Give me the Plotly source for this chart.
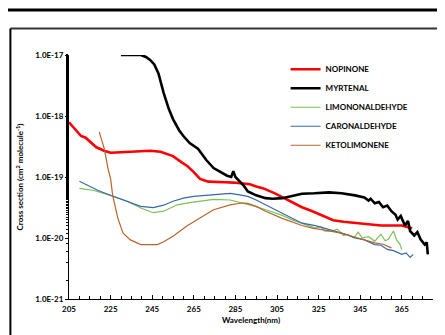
import plotly.graph_objects as go

# ---------------- data ----------------
nop_wl = [205, 208, 210.8, 213, 215.5, 218, 221.8, 225, 230, 236, 240, 244, 249, 255, 259, 262, 265, 268, 272, 275.5, 280, 284, 288, 292, 295, 298.5, 304, 308, 312, 317, 322, 327, 332, 337, 343, 349, 355, 360, 365, 368, 370]
nop_cs = [7.9e-19, 6.0e-19, 4.7e-19, 4.4e-19, 3.7e-19, 3.1e-19, 2.7e-19, 2.5e-19, 2.55e-19, 2.6e-19, 2.65e-19, 2.7e-19, 2.6e-19, 2.2e-19, 1.75e-19, 1.5e-19, 1.2e-19, 9.3e-20, 8.4e-20, 8.4e-20, 8.2e-20, 8.1e-20, 7.9e-20, 7.6e-20, 7.0e-20, 6.5e-20, 5.4e-20, 4.6e-20, 4.0e-20, 3.2e-20, 2.75e-20, 2.3e-20, 1.95e-20, 1.85e-20, 1.75e-20, 1.7e-20, 1.6e-20, 1.6e-20, 1.6e-20, 1.5e-20, 1.45e-20]

myr_wl = [230, 235, 239.5, 242, 244, 246, 248, 250.5, 253, 255, 258, 260, 263, 267, 271, 274.5, 278, 281, 283, 284, 285, 286, 289, 291, 295, 299.5, 303, 307.5, 312, 317, 323, 330, 336, 342.5, 347, 349, 350, 352, 354, 356, 358, 360, 362, 363, 364.5, 366.5, 368, 369, 371, 372.5, 374, 376, 377, 377.5]
myr_cs = [1.0e-17, 9.9e-18, 1.0e-17, 9.3e-18, 8.3e-18, 7.0e-18, 5.0e-18, 2.4e-18, 1.3e-18, 8.9e-19, 5.8e-19, 4.7e-19, 3.6e-19, 2.9e-19, 1.9e-19, 1.4e-19, 1.2e-19, 1.05e-19, 1.0e-19, 1.25e-19, 1.0e-19, 9.3e-20, 7.2e-20, 5.8e-20, 5.0e-20, 4.5e-20, 4.4e-20, 4.5e-20, 4.9e-20, 5.3e-20, 5.4e-20, 5.6e-20, 5.4e-20, 5.0e-20, 4.6e-20, 4.1e-20, 4.4e-20, 3.7e-20, 3.9e-20, 3.2e-20, 3.4e-20, 2.75e-20, 2.4e-20, 2.0e-20, 2.3e-20, 1.6e-20, 1.9e-20, 1.3e-20, 1.1e-20, 1.25e-20, 9.5e-21, 7.8e-21, 8.5e-21, 5.4e-21]

lim_wl = [210, 217, 225, 233, 239.5, 245.5, 250.5, 257, 263, 268, 274.5, 282.5, 285, 290, 294.5, 301, 307.5, 312, 317, 320.5, 323.5, 326, 328, 331.5, 334, 337, 339, 342, 344, 346, 349, 352, 355, 357, 358.5, 361, 362.5, 364, 365]
lim_cs = [6.5e-20, 6.0e-20, 5.0e-20, 4.0e-20, 3.1e-20, 2.6e-20, 2.75e-20, 3.5e-20, 3.8e-20, 4.0e-20, 4.3e-20, 4.2e-20, 4.0e-20, 3.7e-20, 3.3e-20, 2.8e-20, 2.35e-20, 2.0e-20, 1.75e-20, 1.6e-20, 1.45e-20, 1.55e-20, 1.3e-20, 1.3e-20, 1.4e-20, 1.1e-20, 1.15e-20, 1.0e-20, 1.25e-20, 1.0e-20, 1.05e-20, 8.9e-21, 1.15e-20, 9.0e-21, 9.5e-21, 1.3e-20, 9.3e-21, 8.0e-21, 6.5e-21]

car_wl = [210, 214, 219, 226.5, 233, 239.5, 245.5, 250.5, 255, 260, 265, 270, 274.5, 282.5, 287, 291, 295, 299.5, 307.5, 312, 317, 323.5, 328, 333, 338, 342.5, 347, 352, 355, 358, 361, 365, 367, 369, 370.5]
car_cs = [8.5e-20, 7.2e-20, 6.0e-20, 4.8e-20, 4.0e-20, 3.3e-20, 3.15e-20, 3.45e-20, 4.0e-20, 4.5e-20, 4.8e-20, 5.0e-20, 5.1e-20, 5.4e-20, 5.1e-20, 4.8e-20, 4.2e-20, 3.5e-20, 2.6e-20, 2.1e-20, 1.75e-20, 1.6e-20, 1.45e-20, 1.3e-20, 1.15e-20, 1.0e-20, 9.3e-21, 7.8e-21, 7.6e-21, 6.5e-21, 6.2e-21, 5.4e-21, 5.7e-21, 4.8e-21, 5.4e-21]

ket_wl = [219.5, 222, 223.7, 225, 226, 228.5, 231, 234.5, 239.5, 247.5, 250.5, 255, 262, 268, 274.5, 282.5, 288, 291, 295, 299.5, 307.5, 317, 322, 328, 336, 344, 352, 356, 360]
ket_cs = [5.5e-19, 2.9e-19, 1.4e-19, 9.3e-20, 5.0e-20, 2.1e-20, 1.2e-20, 9.3e-21, 7.8e-21, 7.8e-21, 8.7e-21, 1.07e-20, 1.6e-20, 2.1e-20, 2.9e-20, 3.5e-20, 3.75e-20, 3.7e-20, 3.3e-20, 2.75e-20, 2.1e-20, 1.6e-20, 1.45e-20, 1.35e-20, 1.2e-20, 1.0e-20, 8.3e-21, 7.9e-21, 6.9e-21]

x_ticks = [205, 225, 245, 265, 285, 305, 325, 345, 365]
y_ticks = [1e-21, 1e-20, 1e-19, 1e-18, 1e-17]
y_ticktext = ["1.0E-21", "1.0E-20", "1.0E-19", "1.0E-18", "1.0E-17"]

names = ["NOPINONE", "MYRTENAL", "LIMONONALDEHYDE", "CARONALDEHYDE", "KETOLIMONENE"]
colors = ["#FF0000", "#000000", "#7CC05A", "#3868A8", "#B8642E"]
widths = [2.6, 2.6, 1.2, 1.2, 1.2]

series = [(nop_wl, nop_cs), (myr_wl, myr_cs), (lim_wl, lim_cs), (car_wl, car_cs), (ket_wl, ket_cs)]

FONT = "Lato"

fig = go.Figure()
for (wl, cs), nm, c, w in zip(series, names, colors, widths):
    fig.add_trace(go.Scatter(x=wl, y=cs, mode="lines", name=nm,
                             line=dict(color=c, width=w)))

fig.update_layout(
    width=437, height=327,
    margin=dict(l=60, r=12, t=47, b=33),
    paper_bgcolor="white", plot_bgcolor="white",
    font=dict(family=FONT, size=8, color="#000000"),
    showlegend=True,
    legend=dict(x=0.595, y=1.001, xanchor="left", yanchor="top",
                bgcolor="rgba(0,0,0,0)",
                font=dict(family=FONT, size=8, color="#000", weight="bold"),
                tracegroupgap=0, itemwidth=30),
    xaxis=dict(range=[205, 380], tickvals=x_ticks, ticktext=[str(v) for v in x_ticks],
               showgrid=False, zeroline=False, showline=True, linecolor="#000", linewidth=1,
               ticks="inside", ticklen=4, tickcolor="#000",
               minor=dict(dtick=5, tick0=205, ticks="inside", ticklen=3, tickcolor="#000"),
               tickfont=dict(family=FONT, size=8, weight="bold"), ticklabelstandoff=2,
               title=dict(text="<b>Wavelength(nm)</b>", font=dict(family=FONT, size=8), standoff=4)),
    yaxis=dict(type="log", range=[-21, -17], tickvals=y_ticks, ticktext=y_ticktext,
               showgrid=False, zeroline=False, showline=True, linecolor="#000", linewidth=1,
               ticks="outside", ticklen=3, tickcolor="#000",
               minor=dict(ticks="outside", ticklen=2, tickcolor="#000"),
               tickfont=dict(family=FONT, size=8, weight="bold"),
               title=dict(text="<b>Cross section (cm<sup>2</sup> molecule<sup>-1</sup>)</b>",
                          font=dict(family=FONT, size=8), standoff=10)),
)

# frame lines (paper coordinates)
fig.add_shape(type="line", xref="paper", yref="paper", x0=-0.2, x1=1.05, y0=1.184, y1=1.184,
              line=dict(color="#000", width=3))
fig.add_shape(type="line", xref="paper", yref="paper", x0=-0.161, x1=1.05, y0=1.109, y1=1.109,
              line=dict(color="#333", width=2))
fig.add_shape(type="line", xref="paper", yref="paper", x0=-0.161, x1=-0.161, y0=1.109, y1=-0.2,
              line=dict(color="#000", width=2))

fig.write_html("out.html")
